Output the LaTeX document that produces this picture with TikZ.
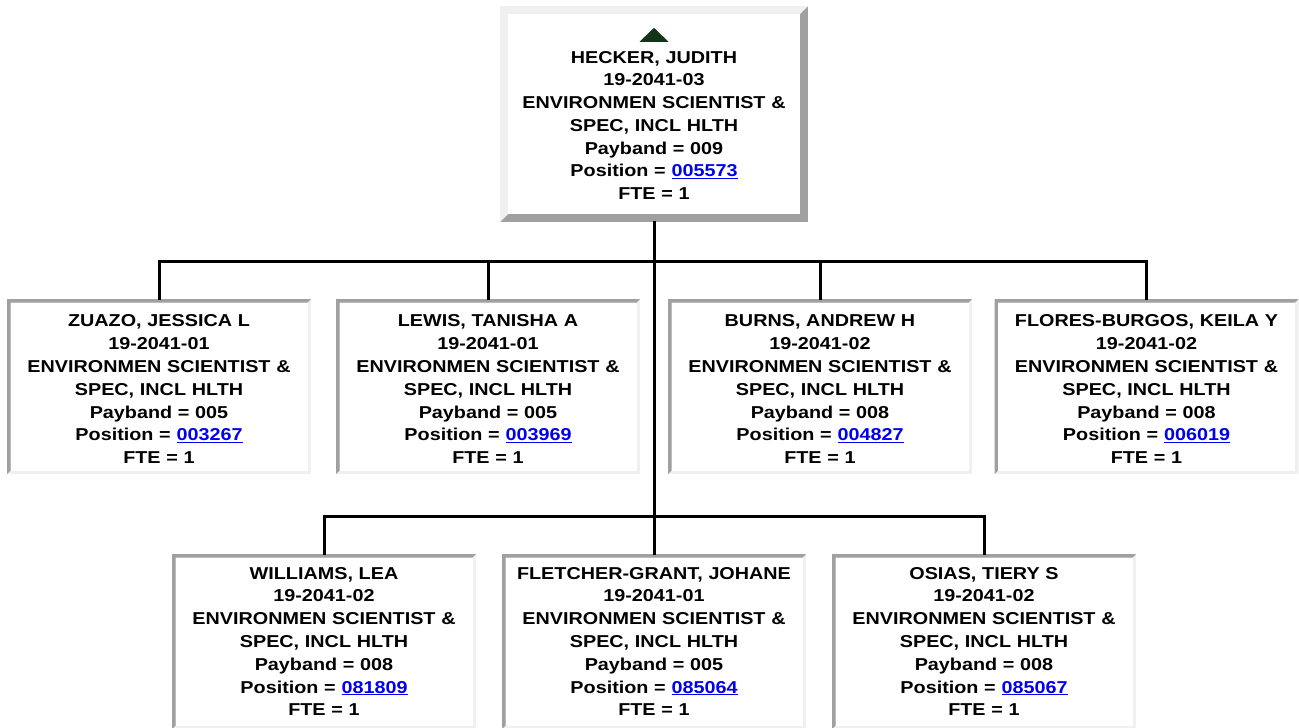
\documentclass[tikz,border=0pt]{standalone}
\usepackage{fontspec}
\usetikzlibrary{calc}
\newfontfamily\cardfont{Liberation Sans}[FakeStretch=1.15]
\definecolor{darkgr}{RGB}{160,160,160}
\definecolor{lightgr}{RGB}{240,240,240}
\definecolor{linkblue}{RGB}{0,0,238}
\definecolor{trigreen}{RGB}{18,52,24}
\newcommand\cardtext{\cardfont\bfseries\fontsize{17.2pt}{22.8pt}\selectfont}
\newcommand\lnk[1]{\textcolor{linkblue}{\underline{#1}}}
\newcommand\padtop{\rule{0pt}{17.5pt}}
\tikzset{
  bevel/.style n args={3}{fill=white, path picture={
    \fill[#3] (path picture bounding box.south west) rectangle (path picture bounding box.north east);
    \fill[#2] (path picture bounding box.south west) -- (path picture bounding box.north west)
      -- (path picture bounding box.north east)
      -- ([xshift=-#1,yshift=-#1]path picture bounding box.north east)
      -- ([xshift=#1,yshift=-#1]path picture bounding box.north west)
      -- ([xshift=#1,yshift=#1]path picture bounding box.south west) -- cycle;
    \fill[white] ([xshift=#1,yshift=#1]path picture bounding box.south west) rectangle ([xshift=-#1,yshift=-#1]path picture bounding box.north east);
  }},
  card/.style={bevel={3.5pt}{darkgr}{lightgr}, minimum width=304pt, minimum height=175pt,
    text width=300pt, inner sep=0pt, align=center, font=\cardtext},
  topcard/.style={bevel={8pt}{lightgr}{darkgr}, minimum width=308pt, minimum height=216pt,
    text width=300pt, inner sep=0pt, align=center, font=\cardtext},
  conn/.style={line width=3pt, draw=black, line cap=rect, line join=miter}
}
\begin{document}
\begin{tikzpicture}[x=1pt,y=-1pt]
\useasboundingbox (0,0) rectangle (1299,728);
\fill[white] (0,0) rectangle (1299,728);

\node[topcard] (hecker) at (654,114) {\rule{0pt}{12pt}\\HECKER, JUDITH\\19-2041-03\\ENVIRONMEN SCIENTIST \&\\SPEC, INCL HLTH\\Payband = 009\\Position = \lnk{005573}\\FTE = 1};
\fill[trigreen] ($(hecker.north)+(-14.5,36)$) -- ($(hecker.north)+(14.5,36)$) -- ($(hecker.north)+(0,22)$) -- cycle;

\node[card] (zuazo) at (159,386.5) {\padtop ZUAZO, JESSICA L\\19-2041-01\\ENVIRONMEN SCIENTIST \&\\SPEC, INCL HLTH\\Payband = 005\\Position = \lnk{003267}\\FTE = 1};
\node[card] (lewis) at (488,386.5) {\padtop LEWIS, TANISHA A\\19-2041-01\\ENVIRONMEN SCIENTIST \&\\SPEC, INCL HLTH\\Payband = 005\\Position = \lnk{003969}\\FTE = 1};
\node[card] (burns) at (820,386.5) {\padtop BURNS, ANDREW H\\19-2041-02\\ENVIRONMEN SCIENTIST \&\\SPEC, INCL HLTH\\Payband = 008\\Position = \lnk{004827}\\FTE = 1};
\node[card] (flores) at (1146.5,386.5) {\padtop FLORES-BURGOS, KEILA Y\\19-2041-02\\ENVIRONMEN SCIENTIST \&\\SPEC, INCL HLTH\\Payband = 008\\Position = \lnk{006019}\\FTE = 1};

\node[card] (williams) at (324,641.5) {WILLIAMS, LEA\\19-2041-02\\ENVIRONMEN SCIENTIST \&\\SPEC, INCL HLTH\\Payband = 008\\Position = \lnk{081809}\\FTE = 1};
\node[card] (fletcher) at (654,641.5) {FLETCHER-GRANT, JOHANE\\19-2041-01\\ENVIRONMEN SCIENTIST \&\\SPEC, INCL HLTH\\Payband = 005\\Position = \lnk{085064}\\FTE = 1};
\node[card] (osias) at (984,641.5) {OSIAS, TIERY S\\19-2041-02\\ENVIRONMEN SCIENTIST \&\\SPEC, INCL HLTH\\Payband = 008\\Position = \lnk{085067}\\FTE = 1};

\coordinate (bus1) at (654,261);
\coordinate (bus2) at (654,516);

\draw[conn] (hecker.south) -- (bus1) -- (bus2);
\draw[conn] (zuazo.north) -- (zuazo.north |- bus1) -- (flores.north |- bus1) -- (flores.north);
\draw[conn] (lewis.north) -- (lewis.north |- bus1);
\draw[conn] (burns.north) -- (burns.north |- bus1);
\draw[conn] (williams.north) -- (williams.north |- bus2) -- (osias.north |- bus2) -- (osias.north);
\draw[conn] (fletcher.north) -- (bus2);
\end{tikzpicture}
\end{document}
